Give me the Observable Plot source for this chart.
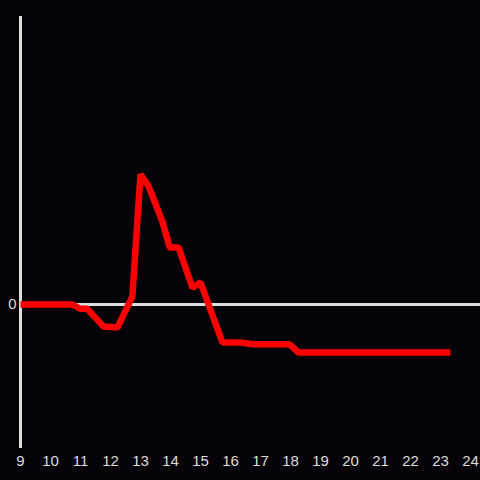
<!DOCTYPE html>
<html>
<head>
<meta charset="utf-8">
<script src="https://cdn.jsdelivr.net/npm/d3@7"></script>
<script src="https://cdn.jsdelivr.net/npm/@observablehq/plot@0.6"></script>
<style>
  html, body { margin: 0; padding: 0; background: #050308; }
</style>
</head>
<body>
<div id="chart"></div>
<script>
const hours = [9.0, 10.73, 11.0, 11.23, 11.77, 12.23, 12.73, 13.0, 13.27, 13.73, 13.97, 14.27, 14.73, 15.0, 15.73, 16.33, 16.77, 17.97, 18.27, 23.33];
const values = [0, 0, -0.09, -0.09, -0.46, -0.48, 0.17, 2.71, 2.46, 1.73, 1.19, 1.19, 0.35, 0.46, -0.79, -0.79, -0.83, -0.83, -1.0, -1.0];
const xTicks = [9, 10, 11, 12, 13, 14, 15, 16, 17, 18, 19, 20, 21, 22, 23, 24];
const yTicks = [0];

const data = hours.map((h, i) => ({hour: h, value: values[i]}));

const chart = Plot.plot({
  width: 480,
  height: 480,
  marginLeft: 20,
  marginRight: 0,
  marginTop: 16,
  marginBottom: 32,
  style: {background: "#050308", color: "#dddddd", fontFamily: "Liberation Sans, Arial, sans-serif"},
  x: {domain: [9, 24 + 1/3]},
  y: {domain: [-3, 6]},
  marks: [
    Plot.axisX(xTicks, {tickSize: 0, tickPadding: 7, label: null, fontSize: 15, fill: "#dddddd"}),
    Plot.axisY(yTicks, {tickSize: 0, tickPadding: 4, label: null, fontSize: 15, fill: "#dddddd"}),
    Plot.ruleY([0], {stroke: "#dddddd", strokeWidth: 3}),
    Plot.ruleX([9], {stroke: "#dddddd", strokeWidth: 3}),
    Plot.line(data, {x: "hour", y: "value", stroke: "#ff0000", strokeWidth: 6.5, strokeLinejoin: "miter", strokeLinecap: "butt", curve: "linear"})
  ]
});
document.getElementById("chart").appendChild(chart);
</script>
</body>
</html>
